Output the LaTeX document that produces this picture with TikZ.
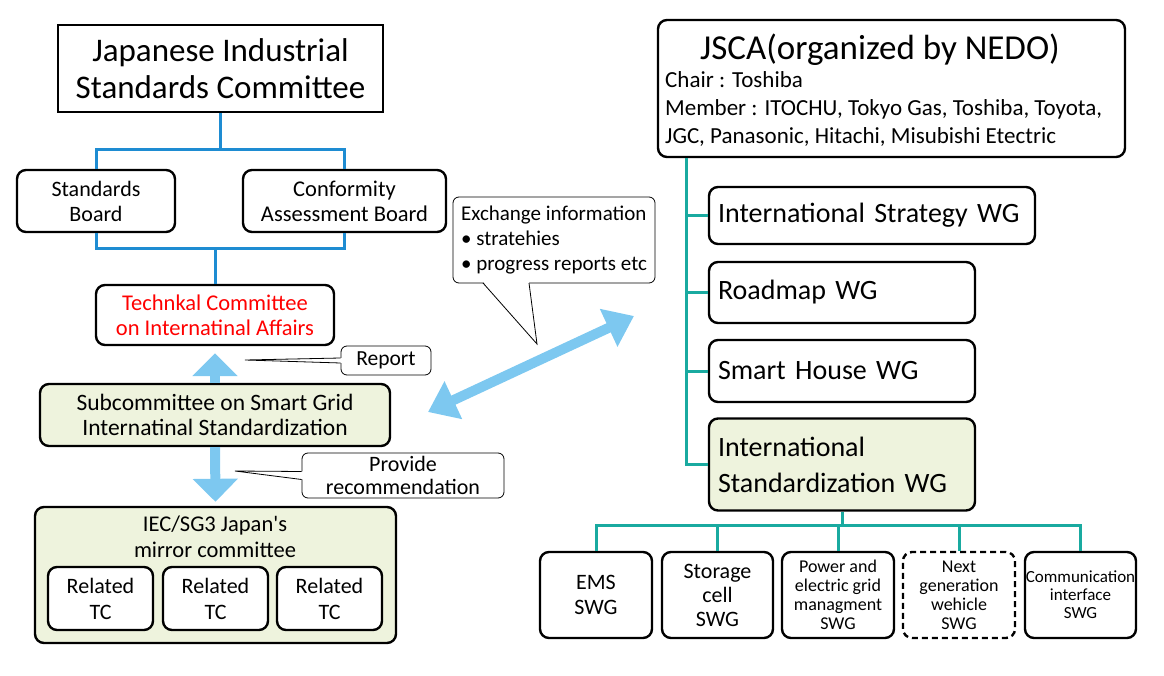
\documentclass[tikz,border=0pt]{standalone}
\usepackage{fontspec}
\setmainfont{Carlito}
\usepackage{tikz}
\usetikzlibrary{arrows.meta}
\definecolor{treeblue}{RGB}{30,140,210}
\definecolor{arrowblue}{RGB}{125,200,240}
\definecolor{wgteal}{RGB}{25,170,160}
\definecolor{subgreen}{RGB}{238,243,221}
\newcommand{\fsz}[2]{\fontsize{#1}{#2}\selectfont}

\begin{document}
\begin{tikzpicture}[x=1pt,y=-1pt,
      box/.style = {draw, line width=2.4pt, rounded corners=9pt,
                    align=center, inner sep=0pt, fill=white},
      greenbox/.style = {box, fill=subgreen},
      wgbox/.style = {box, align=left, inner xsep=9pt},
      callout/.style = {draw, line width=0.8pt, rounded corners=6pt,
                        align=center, inner sep=0pt, fill=white},
      wedge/.style = {line width=0.8pt},
      bluetree/.style = {draw=treeblue, line width=3pt},
      tealtree/.style = {draw=wgteal, line width=3pt},
      bigarrow/.style = {draw=arrowblue, line width=10pt,
                         -{Triangle[width=44pt,length=23pt]}}
    ]
\useasboundingbox (0,0) rectangle (1164,676);

% left side
\node[box, rounded corners=0pt, minimum width=325pt, minimum height=87pt,
      font=\fsz{33}{37}] (jisc) at (220.5,68.5) {Japanese Industrial\\Standards Committee};
\node[box, minimum width=158pt, minimum height=62pt, font=\fsz{22}{25}] (sb) at (96,201) {Standards\\Board};
\node[box, minimum width=203pt, minimum height=62pt, font=\fsz{22.5}{25}] (cab) at (344.5,201) {Conformity\\Assessment Board};
\node[box, minimum width=238pt, minimum height=60pt, font=\fsz{22.5}{25}, text=red] (tc) at (215,315) {Technkal Committee\\on Internatinal Affairs};
\node[greenbox, minimum width=350pt, minimum height=62pt, font=\fsz{23.5}{25}] (sub) at (215,415) {Subcommittee on Smart Grid\\Internatinal Standardization};
\node[greenbox, minimum width=361pt, minimum height=136pt] (mirror) at (215.5,575) {};
\node[font=\fsz{22.5}{26}, align=center, inner sep=0pt] (mirrortitle) at (215,537) {IEC/SG3 Japan\textquotesingle s\\mirror committee};
\node[box, minimum width=105pt, minimum height=63pt, font=\fsz{22}{26}] (rtca) at (100.5,598.5) {Related\\TC};
\node[box, minimum width=105pt, minimum height=63pt, font=\fsz{22}{26}] (rtcb) at (215.5,598.5) {Related\\TC};
\node[box, minimum width=105pt, minimum height=63pt, font=\fsz{22}{26}] (rtcc) at (329.5,598.5) {Related\\TC};

\draw[bluetree] (jisc.south) -- ++(0,36) coordinate (jtop);
\draw[bluetree] (sb.north) |- (jtop) -| (cab.north);
\draw[bluetree] (tc.north) -- ++(0,-35) coordinate (jbot);
\draw[bluetree] (sb.south) |- (jbot) -| (cab.south);

\draw[bigarrow] (sub.north) -- ([yshift=-7pt]tc.south);
\draw[bigarrow] (sub.south) -- ([yshift=4pt]mirror.north);

% callouts
\node[callout, minimum width=90pt, minimum height=29pt, font=\fsz{21.5}{24}] (report) at (386,360.5) {Report};
\coordinate (reporttip) at (245,360);
\fill[white] (reporttip) -- ([xshift=1.5pt,yshift=2.5pt]report.west) -- ([xshift=1.5pt,yshift=-2.5pt]report.west) -- cycle;
\draw[wedge] ([yshift=2.5pt]report.west) -- (reporttip) -- ([yshift=-2.5pt]report.west);

\node[callout, minimum width=202pt, minimum height=45pt, font=\fsz{22}{23}] (provide) at (403,475.5) {Provide\\recommendation};
\coordinate (providetip) at (235,471);
\fill[white] (providetip) -- ([xshift=1.5pt,yshift=4pt]provide.west) -- ([xshift=1.5pt,yshift=-4pt]provide.west) -- cycle;
\draw[wedge] ([yshift=4pt]provide.west) -- (providetip) -- ([yshift=-4pt]provide.west);

\node[callout, minimum width=202pt, minimum height=86pt, align=left, font=\fsz{21}{25}] (exch) at (554,240)
  {Exchange information\\\textbullet\ stratehies\\\textbullet\ progress reports etc};
\coordinate (exchtip) at (537,344);
\coordinate (exchl) at (483,283);
\coordinate (exchr) at (529,283);
\fill[white] ([yshift=1.5pt]exchl) -- (exchtip) -- ([yshift=1.5pt]exchr) -- cycle;
\draw[wedge] (exchl) -- (exchtip) -- (exchr);

\coordinate (exleft) at (428,412);
\coordinate (exright) at (634,316);
\draw[bigarrow, {Triangle[width=40pt,length=28pt]}-{Triangle[width=40pt,length=28pt]}] (exleft) -- (exright);

% right side
\node[box, minimum width=467pt, minimum height=137pt] (jsca) at (891.5,88.5) {};
\node[font=\fsz{35}{40}, inner sep=0pt] (jscatitle) at (880,50) {JSCA(organized by NEDO)};
\node[font=\fsz{23}{28}, align=left, inner sep=0pt, anchor=west] (jscainfo) at (665,109)
  {Chair : Toshiba\\Member : ITOCHU, Tokyo Gas, Toshiba, Toyota,\\JGC, Panasonic, Hitachi, Misubishi Etectric};

\node[wgbox, text width=308pt, minimum height=57pt, font=\fsz{28}{32}] (isw) at (872,215.5) {International Strategy WG};
\node[wgbox, text width=248pt, minimum height=61pt, font=\fsz{28}{32}] (road) at (842,292.5) {Roadmap WG};
\node[wgbox, text width=248pt, minimum height=62pt, font=\fsz{28}{32}] (house) at (842,371) {Smart House WG};
\node[wgbox, fill=subgreen, text width=248pt, minimum height=92pt, font=\fsz{28}{36}] (iswg) at (842,464.5) {International\\Standardization WG};

\coordinate (tstem) at ([xshift=30pt]jsca.south west);
\draw[tealtree] (tstem) |- (iswg.west);
\foreach \n in {isw,road,house}
  \draw[tealtree] (\n.west) -- (\n.west -| tstem);

\node[box, minimum width=112pt, minimum height=86pt, font=\fsz{22}{25}] (ems) at (596,595) {EMS\\SWG};
\node[box, minimum width=111pt, minimum height=86pt, font=\fsz{22}{24}] (storage) at (717.5,595) {Storage\\cell\\SWG};
\node[box, minimum width=112pt, minimum height=86pt, font=\fsz{18}{19}] (power) at (838,595) {Power and\\electric grid\\managment\\SWG};
\node[box, dash pattern=on 6pt off 4pt, minimum width=112pt, minimum height=86pt, font=\fsz{18}{19}] (next) at (959,595) {Next\\generation\\wehicle\\SWG};
\node[box, minimum width=111pt, minimum height=86pt, font=\fsz{17}{18}] (comm) at (1080.5,595) {Communication\\interface\\SWG};

\draw[tealtree] (iswg.south) -- ++(0,14) coordinate (sbar);
\draw[tealtree] (ems.north) |- (sbar) -| (comm.north);
\foreach \n in {storage,power,next}
  \draw[tealtree] (\n.north) -- (\n.north |- sbar);
\end{tikzpicture}
\end{document}
